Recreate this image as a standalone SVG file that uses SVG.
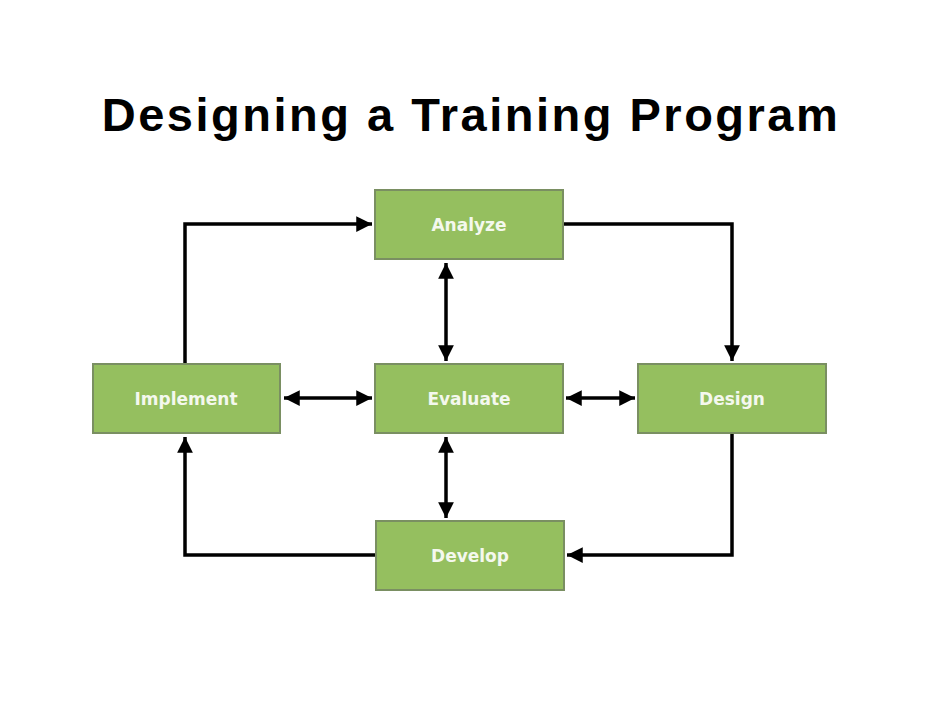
<svg xmlns="http://www.w3.org/2000/svg" width="942" height="728" viewBox="0 0 942 728">
<style>
.n{fill:#95bf5f;stroke:#7a8f62;stroke-width:2}
.t{font-family:"DejaVu Sans",sans-serif;font-weight:bold;font-size:17px;fill:#f4f8ee;text-anchor:middle;dominant-baseline:central}
.c{fill:none;stroke:#000;stroke-width:3.5}
</style>
<defs>
<marker id="a" viewBox="0 0 10 10" refX="10" refY="5" markerWidth="6" markerHeight="4.5" orient="auto-start-reverse" markerUnits="strokeWidth"><path d="M0,0L10,5L0,10z" fill="#000"/></marker>
</defs>
<rect width="942" height="728" fill="#fff"/>
<text x="471" y="131" text-anchor="middle" font-family="Liberation Sans,Arial,sans-serif" font-weight="bold" font-size="47" letter-spacing="2.5">Designing a Training Program</text>
<g id="connectors">
<path class="c" d="M185,364V224H372" marker-end="url(#a)"/>
<path class="c" d="M563,224H732V361" marker-end="url(#a)"/>
<path class="c" d="M732,433V555H567" marker-end="url(#a)"/>
<path class="c" d="M376,555H185V437" marker-end="url(#a)"/>
<path class="c" d="M446,263V361" marker-start="url(#a)" marker-end="url(#a)"/>
<path class="c" d="M446,437V518" marker-start="url(#a)" marker-end="url(#a)"/>
<path class="c" d="M284,398H372" marker-start="url(#a)" marker-end="url(#a)"/>
<path class="c" d="M566,398H635" marker-start="url(#a)" marker-end="url(#a)"/>
</g>
<g id="analyze"><rect class="n" x="375" y="190" width="188" height="69"/><text class="t" x="469" y="225">Analyze</text></g>
<g id="implement"><rect class="n" x="93" y="364" width="187" height="69"/><text class="t" x="186" y="399">Implement</text></g>
<g id="evaluate"><rect class="n" x="375" y="364" width="188" height="69"/><text class="t" x="469" y="399">Evaluate</text></g>
<g id="design"><rect class="n" x="638" y="364" width="188" height="69"/><text class="t" x="732" y="399">Design</text></g>
<g id="develop"><rect class="n" x="376" y="521" width="188" height="69"/><text class="t" x="470" y="556">Develop</text></g>
</svg>
